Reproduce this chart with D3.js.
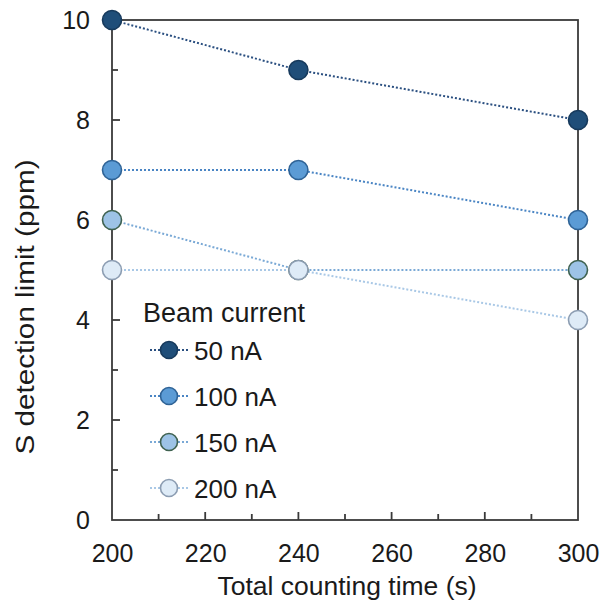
<!DOCTYPE html>
<html>
<head>
<meta charset="utf-8">
<script src="https://cdn.jsdelivr.net/npm/d3@7"></script>
<style>
  html, body { margin: 0; padding: 0; background: #fff; }
  svg { display: block; font-family: "Liberation Sans", Arial, sans-serif; }
</style>
</head>
<body>
<svg id="chart" width="603" height="609"></svg>
<script>
// Counting times (s) on the x axis
const countingTimes = [200, 240, 300];

// Beam currents, one series each
const seriesNames = ["50 nA", "100 nA", "150 nA", "200 nA"];

// S detection limit (ppm) per beam current, at each counting time
const limit50 = [10, 9, 8];
const limit100 = [7, 7, 6];
const limit150 = [6, 5, 5];
const limit200 = [5, 5, 4];

const xTicks = [200, 220, 240, 260, 280, 300];
const yTicks = [0, 2, 4, 6, 8, 10];

const legendTitle = "Beam current";
const xTitle = "Total counting time (s)";
const yTitle = "S detection limit (ppm)";

// Marker fill, marker outline and connecting line colour per series
const fills = ["#1f4e79", "#5b9bd5", "#9dc3e6", "#deebf7"];
const strokes = ["#173a5c", "#2f6396", "#3f6250", "#8c9db2"];
const lineColors = ["#2a4f80", "#4a85c4", "#7aa9d6", "#a9c8e6"];

const series = [limit50, limit100, limit150, limit200].map((vals, i) => ({
  name: seriesNames[i],
  points: vals.map((v, j) => ({ x: countingTimes[j], y: v })),
  fill: fills[i], stroke: strokes[i], line: lineColors[i]
}));

const svg = d3.select("#chart");
const margin = { left: 112, right: 25, top: 20, bottom: 89 };
const W = 603, H = 609;
const x = d3.scaleLinear().domain([200, 300]).range([margin.left, W - margin.right]);
const y = d3.scaleLinear().domain([0, 10]).range([H - margin.bottom, margin.top]);

const axisColor = "#3a3a3a";

// Frame
svg.append("rect")
  .attr("x", x(200)).attr("y", y(10))
  .attr("width", x(300) - x(200)).attr("height", y(0) - y(10))
  .attr("fill", "none").attr("stroke", axisColor).attr("stroke-width", 1.8);

// Inward ticks: major with labels, minor in between
const xMinor = d3.range(210, 300, 20);
const xAxis = d3.axisBottom(x).tickValues(xTicks).tickSize(0).tickPadding(24).tickFormat(d3.format("d"));
const gx = svg.append("g").attr("transform", `translate(0,${y(0)})`).call(xAxis);
gx.select(".domain").remove();
gx.selectAll("text").attr("font-size", 25).attr("fill", "#1a1a1a").attr("font-family", "Liberation Sans, Arial, sans-serif");

svg.append("g").selectAll("line").data(xTicks.slice(1, -1)).join("line")
  .attr("x1", d => x(d)).attr("x2", d => x(d))
  .attr("y1", y(0)).attr("y2", y(0) - 8)
  .attr("stroke", axisColor).attr("stroke-width", 1.8);
svg.append("g").selectAll("line").data(xMinor).join("line")
  .attr("x1", d => x(d)).attr("x2", d => x(d))
  .attr("y1", y(0)).attr("y2", y(0) - 6)
  .attr("stroke", axisColor).attr("stroke-width", 1.8);

const yMinor = d3.range(1, 10, 2);
const yAxis = d3.axisLeft(y).tickValues(yTicks).tickSize(0).tickPadding(22).tickFormat(d3.format("d"));
const gy = svg.append("g").attr("transform", `translate(${x(200)},0)`).call(yAxis);
gy.select(".domain").remove();
gy.selectAll("text").attr("font-size", 25).attr("fill", "#1a1a1a").attr("font-family", "Liberation Sans, Arial, sans-serif");

svg.append("g").selectAll("line").data(yTicks.slice(1, -1)).join("line")
  .attr("x1", x(200)).attr("x2", x(200) + 8)
  .attr("y1", d => y(d)).attr("y2", d => y(d))
  .attr("stroke", axisColor).attr("stroke-width", 1.8);
svg.append("g").selectAll("line").data(yMinor).join("line")
  .attr("x1", x(200)).attr("x2", x(200) + 6)
  .attr("y1", d => y(d)).attr("y2", d => y(d))
  .attr("stroke", axisColor).attr("stroke-width", 1.8);

// Axis titles
svg.append("text")
  .attr("x", (x(200) + x(300)) / 2 + 2).attr("y", 595)
  .attr("text-anchor", "middle").attr("font-size", 26.5).attr("fill", "#1a1a1a")
  .text(xTitle);
svg.append("text")
  .attr("transform", `translate(34,307) rotate(-90) scale(1.12,1)`)
  .attr("text-anchor", "middle").attr("font-size", 26.5).attr("fill", "#1a1a1a")
  .text(yTitle);

// Dotted connecting lines
const line = d3.line().x(d => x(d.x)).y(d => y(d.y));
svg.append("g").selectAll("path").data(series).join("path")
  .attr("d", d => line(d.points))
  .attr("fill", "none").attr("stroke", d => d.line)
  .attr("stroke-width", 2).attr("stroke-dasharray", "2,2");

// Markers
series.forEach(s => {
  svg.append("g").selectAll("circle").data(s.points).join("circle")
    .attr("cx", d => x(d.x)).attr("cy", d => y(d.y)).attr("r", 9.5)
    .attr("fill", s.fill).attr("stroke", s.stroke).attr("stroke-width", 1.6);
});

// Legend
const legend = svg.append("g");
legend.append("text").attr("x", 143).attr("y", 322)
  .attr("font-size", 27).attr("fill", "#1a1a1a").text(legendTitle);
const rows = legend.selectAll("g.row").data(series).join("g")
  .attr("class", "row")
  .attr("transform", (d, i) => `translate(0,${350 + i * 46})`);
rows.append("line").attr("x1", 150).attr("x2", 188).attr("y1", 0).attr("y2", 0)
  .attr("stroke", d => d.line).attr("stroke-width", 2).attr("stroke-dasharray", "2,2");
rows.append("circle").attr("cx", 169).attr("cy", 0).attr("r", 8.5)
  .attr("fill", d => d.fill).attr("stroke", d => d.stroke).attr("stroke-width", 1.6);
rows.append("text").attr("x", 194).attr("y", 10)
  .attr("font-size", 26).attr("fill", "#1a1a1a").text(d => d.name);
</script>
</body>
</html>
